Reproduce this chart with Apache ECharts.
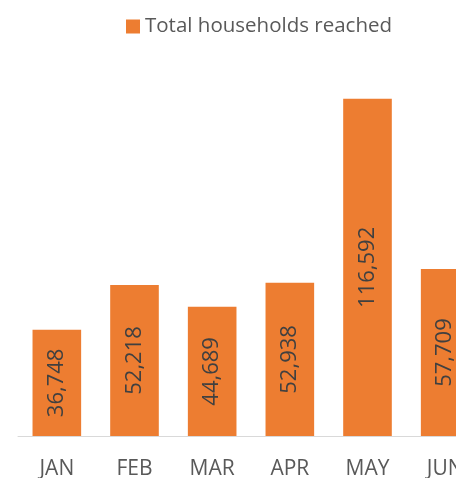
<!DOCTYPE html>
<html><head><meta charset="utf-8">
<script src="https://cdn.jsdelivr.net/npm/echarts@6/dist/echarts.min.js"></script>
<style>html,body{margin:0;padding:0;background:#fff;overflow:hidden;width:456px;height:478px}#c{width:484px;height:478px}</style>
</head><body><div id="c"></div>
<script>
const categories = ['JAN','FEB','MAR','APR','MAY','JUN'];
const households = [36748, 52218, 44689, 52938, 116592, 57709];
const seriesName = 'Total households reached';

const chart = echarts.init(document.getElementById('c'), null, {renderer:'canvas'});
chart.setOption({
  animation: false,
  legend: {
    data: [seriesName], top: 11, left: 121,
    itemWidth: 14, itemHeight: 14, icon: 'rect', itemGap: 8,
    textStyle: {fontFamily: 'Open Sans', fontSize: 20.5, color: '#595959'}
  },
  grid: {left: 18, right: 0, top: 31, bottom: 42, containLabel: false, outerBoundsMode: 'none'},
  xAxis: {
    type: 'category', data: categories,
    axisLine: {lineStyle: {color: '#d9d9d9', width: 1}},
    axisTick: {show: false},
    axisLabel: {fontFamily: 'Open Sans', fontSize: 21, color: '#595959', margin: 23, interval: 0}
  },
  yAxis: {type: 'value', min: 0, max: 140000, show: false, splitLine: {show: false}},
  series: [{
    name: seriesName, type: 'bar', data: households,
    barCategoryGap: '37.4%',
    itemStyle: {color: '#ED7D31'},
    label: {
      show: true, position: 'inside', rotate: 90,
      fontFamily: 'Open Sans', fontSize: 22, color: '#404040',
      formatter: p => p.value.toLocaleString('en-US')
    }
  }]
});
</script></body></html>
